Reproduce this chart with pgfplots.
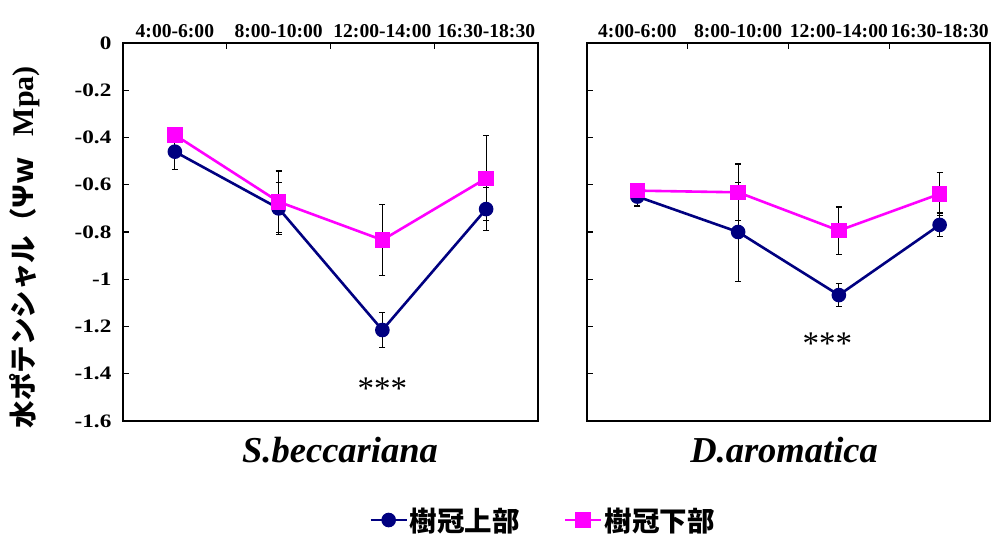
\documentclass[border=0pt]{standalone}
\usepackage{fontspec}
\setmainfont{Liberation Serif}
\newfontfamily\cjk{Noto Sans CJK JP}
\usepackage{pgfplots}
\pgfplotsset{compat=1.18}
\definecolor{navy}{RGB}{0,0,128}
\definecolor{mag}{RGB}{255,0,255}
\pgfplotsset{
  panel/.style={
    scale only axis, height=378pt, xmin=-0.5, xmax=3.5, ymin=-1.6, ymax=0,
    axis line style={line width=2.6pt},
    tick style={black, line width=1.2pt}, major tick length=6pt, tick align=inside,
    xtick={0.5,1.5,2.5}, xticklabels={}, xtick pos=right, xticklabel pos=right,
    extra x ticks={0,1,2,3},
    extra x tick labels={4:00-6:00,8:00-10:00,12:00-14:00,16:30-18:30},
    extra x tick style={major tick length=0pt},
    xticklabel style={font=\fontsize{19.6}{21}\selectfont\bfseries, yshift=2pt},
    ytick={-1.6,-1.4,-1.2,-1,-0.8,-0.6,-0.4,-0.2,0}, ytick pos=left,
    yticklabel style={font=\fontsize{19}{21}\selectfont\bfseries, xscale=1.22, xshift=-6pt},
    clip=false,
  },
  bl/.style={navy, line width=2.6pt, mark=*, mark size=6pt, mark options={solid, fill=navy},
    error bars/.cd, y dir=both, y explicit,
    error bar style={black, line width=1.2pt},
    error mark options={rotate=90, black, mark size=3pt, line width=1.2pt}},
  pk/.style={mag, line width=2.6pt, mark=square*, mark size=6.5pt, mark options={solid, fill=mag},
    error bars/.cd, y dir=both, y explicit,
    error bar style={black, line width=1.2pt},
    error mark options={rotate=90, black, mark size=3pt, line width=1.2pt}},
}
\begin{document}
\begin{tikzpicture}
\path[use as bounding box] (-123pt,-112pt) rectangle (868pt,421pt);
\begin{axis}[panel, width=415pt,
  yticklabels={-1.6,-1.4,-1.2,-1,-0.8,-0.6,-0.4,-0.2,0},
  ylabel={{\cjk\bfseries 水ポテンシャル（Ψｗ}\hspace{0.75em}{\fontsize{30}{32}\selectfont\bfseries Mpa)}},
  ylabel style={at={(axis description cs:-0.236,0.46)}, anchor=center, font=\fontsize{27.5}{29}\selectfont},
  legend columns=2,
  legend style={draw=none, fill=none, at={(axis description cs:1.012,-0.262)}, anchor=center,
    font=\fontsize{27.5}{29}\selectfont\cjk\bfseries,
    /tikz/every even column/.append style={column sep=42pt}},
  legend image code/.code={\draw[mark repeat=2,mark phase=2] plot coordinates {(0pt,0pt) (18pt,0pt) (36pt,0pt)};},
]
\addplot+[bl] coordinates {(0,-0.46) +- (0,0.075) (1,-0.70) +- (0,0.11) (2,-1.215) +- (0,0.075) (3,-0.703) +- (0,0.09)};
\addlegendentry{樹冠上部}
\addplot+[pk] coordinates {(0,-0.389) +- (0,0.03) (1,-0.672) +- (0,0.13) (2,-0.834) +- (0,0.15) (3,-0.573) +- (0,0.18)};
\addlegendentry{樹冠下部}
\node[anchor=base, font=\fontsize{33}{35}\selectfont] at (axis cs:2,-1.511) {***};
\node[anchor=base, font=\fontsize{36.5}{38}\selectfont\bfseries\itshape] at (axis description cs:0.523,-0.111) {S.beccariana};
\end{axis}
\begin{axis}[panel, width=403pt, at={(464pt,0pt)}, yticklabels={}]
\addplot+[bl] coordinates {(0,-0.650) +- (0,0.04) (1,-0.80) +- (0,0.21) (2,-1.067) +- (0,0.05) (3,-0.77) +- (0,0.05)};
\addplot+[pk] coordinates {(0,-0.625) +- (0,0.02) (1,-0.632) +- (0,0.12) (2,-0.794) +- (0,0.10) (3,-0.639) +- (0,0.09)};
\node[anchor=base, font=\fontsize{33}{35}\selectfont] at (axis cs:1.887,-1.32) {***};
\node[anchor=base, font=\fontsize{36.5}{38}\selectfont\bfseries\itshape] at (axis description cs:0.489,-0.111) {D.aromatica};
\end{axis}
\end{tikzpicture}
\end{document}
